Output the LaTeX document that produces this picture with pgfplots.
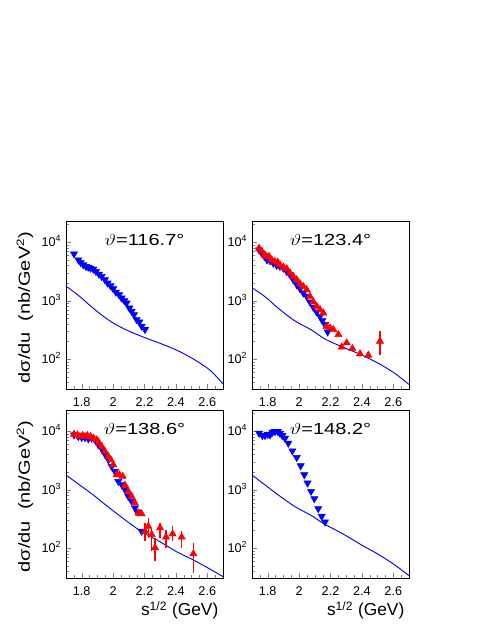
\documentclass[border=0pt]{standalone}
\usepackage{pgfplots}
\pgfplotsset{compat=1.18}
\usepackage{fontspec}
\setmainfont{Liberation Sans}
\usepackage{graphicx}
\definecolor{ebar}{RGB}{255,0,0}
\pgfplotsset{
  every axis/.append style={
    scale only axis, width=117.75pt, height=126pt,
    xmin=1.7, xmax=2.7, ymin=31, ymax=23000,
    axis line style={line width=0.6pt},
    tick align=inside, tick pos=left,
    xtick={1.8,2,2.2,2.4,2.6}, xticklabels={1.8,2,2.2,2.4,2.6},
    minor xtick={1.7,1.75,1.85,1.9,1.95,2.05,2.1,2.15,2.25,2.3,2.35,2.45,2.5,2.55,2.65},
    ytick={100,1000,10000},
    yticklabels={10\textsuperscript{2},10\textsuperscript{3},10\textsuperscript{4}},
    minor ytick={40,50,60,70,80,90,200,300,400,500,600,700,800,900,2000,3000,4000,5000,6000,7000,8000,9000,20000},
    major tick length=4pt, minor tick length=2pt,
    ticklabel style={font=\fontsize{9.5}{11}\selectfont},
    yticklabel style={anchor=base east, yshift=-3.4pt},
    xticklabel style={yshift=-3pt},
  },
  mycurve/.style={blue, line width=0.7pt, no markers, smooth, tension=0.5},
  mybdn/.style={only marks, mark=triangle*, mark size=3.1pt, blue, mark options={rotate=180, fill=blue, draw=blue}},
  myrup/.style={only marks, mark=triangle*, mark size=3.1pt, red, mark options={fill=red, draw=red}},
}
\newcommand{\ttl}[1]{\node[anchor=base, font=\fontsize{12}{14}\selectfont, yshift=-18.5pt] at (rel axis cs:0.5,1) {\scalebox{1.25}[1]{$\vartheta$=#1°}};}
\newcommand{\ylab}{\scalebox{1.25}[1]{dσ/du\ \ (nb/GeV\textsuperscript{2})}}
\newcommand{\eb}[3]{\addplot[ebar, draw=ebar, line width=0.9pt, mark=none, sharp plot] coordinates {(#1,#2) (#1,#3)};}
\begin{document}
\begin{tikzpicture}
\path[use as bounding box] (0,0) rectangle (368.25pt,476.25pt);
% top-left
\begin{semilogyaxis}[at={(49.5pt,184.5pt)}, anchor=south west]
\addplot[mycurve] coordinates {(1.70,1780) (1.789,1171) (1.874,740) (1.98,450) (2.086,315) (2.203,233) (2.299,187) (2.405,143) (2.511,101) (2.617,65) (2.70,38)};
\addplot[mybdn] coordinates {(1.751,6300) (1.779,4990) (1.793,4500) (1.810,4100) (1.827,3840) (1.842,3740) (1.857,3600) (1.874,3460) (1.891,3160) (1.910,2840) (1.927,2600) (1.948,2280) (1.965,2000) (1.984,1800) (2.001,1600) (2.018,1400) (2.038,1265) (2.054,1110) (2.071,1000) (2.086,912) (2.103,750) (2.118,660) (2.133,578) (2.150,475) (2.167,434) (2.182,367) (2.203,321)};
\ttl{116.7}
\end{semilogyaxis}
% top-right
\begin{semilogyaxis}[at={(189pt,184.5pt)}, anchor=south west]
\addplot[mycurve] coordinates {(1.70,1667) (1.783,1171) (1.868,740) (1.974,450) (2.080,315) (2.165,221) (2.271,164) (2.399,118) (2.505,85) (2.611,57) (2.70,37)};
\addplot[mybdn] coordinates {(1.745,7390) (1.762,6490) (1.779,5690) (1.796,4990) (1.815,4800) (1.836,4380) (1.857,4000) (1.878,3840) (1.900,3600) (1.921,3160) (1.942,2770) (1.963,2280) (1.985,1875) (2.006,1600) (2.027,1350) (2.048,1190) (2.069,950) (2.091,771) (2.112,641) (2.133,542) (2.148,457) (2.165,391) (2.182,293)};
\addplot[myrup] coordinates {(1.745,7890) (1.762,6920) (1.779,6070) (1.793,5690) (1.808,5690) (1.825,4990) (1.846,4680) (1.864,4550) (1.878,4100) (1.900,3740) (1.921,3510) (1.942,2960) (1.963,2600) (1.985,2280) (2.006,1950) (2.027,1750) (2.048,1540) (2.069,1190) (2.091,950) (2.112,800) (2.133,703) (2.154,617) (2.176,366) (2.197,343) (2.218,321) (2.250,264) (2.271,161) (2.303,190) (2.339,152) (2.388,124) (2.441,117) (2.515,203)};
\eb{2.515}{117}{300}
\ttl{123.4}
\end{semilogyaxis}
% bottom-left
\begin{semilogyaxis}[at={(49.5pt,42.75pt)}, anchor=south west]
\addplot[mycurve] coordinates {(1.70,1782) (1.874,811) (1.98,480) (2.086,292) (2.182,191) (2.299,129) (2.405,87) (2.511,63) (2.617,44) (2.70,32.6)};
\addplot[mybdn] coordinates {(1.751,8630) (1.779,8090) (1.800,7780) (1.821,7780) (1.842,7390) (1.863,7580) (1.885,7100) (1.906,5840) (1.927,4990) (1.948,4050) (1.970,3240) (1.991,2500) (2.012,2050) (2.033,1390) (2.055,1220) (2.076,1000) (2.097,771) (2.118,634) (2.139,488) (2.154,417) (2.182,195)};
\addplot[myrup] coordinates {(1.751,8870) (1.772,8630) (1.789,8090) (1.806,8410) (1.821,8090) (1.836,8410) (1.857,8090) (1.874,7580) (1.895,7100) (1.912,6230) (1.927,5470) (1.948,4500) (1.970,3700) (1.985,3240) (2.001,2670) (2.023,1800) (2.040,1800) (2.061,1690) (2.076,1190) (2.097,937) (2.118,771) (2.139,593) (2.161,401) (2.182,386)
(2.203,195) (2.224,238) (2.246,171) (2.267,102) (2.299,223) (2.337,155) (2.379,176) (2.437,155) (2.511,80)};
\eb{2.203}{132}{271}
\eb{2.224}{151}{330}
\eb{2.246}{89}{223}
\eb{2.267}{60}{151}
\eb{2.299}{151}{271}
\eb{2.337}{102}{208}
\eb{2.379}{132}{238}
\eb{2.437}{102}{195}
\eb{2.511}{38}{124}
\ttl{138.6}
\end{semilogyaxis}
% bottom-right
\begin{semilogyaxis}[at={(189pt,42.75pt)}, anchor=south west]
\addplot[mycurve] coordinates {(1.70,1782) (1.868,811) (1.974,513) (2.080,359) (2.154,266) (2.292,168) (2.399,113) (2.505,78.5) (2.611,51.5) (2.70,33.9)};
\addplot[mybdn] coordinates {(1.745,9220) (1.766,8410) (1.783,8410) (1.800,8870) (1.815,8630) (1.830,9590) (1.846,9840) (1.864,9840) (1.878,9220) (1.893,8410) (1.910,7580) (1.931,6230) (1.957,4610) (1.985,3550) (2.010,2560) (2.033,1800) (2.054,1300) (2.076,937) (2.097,703) (2.122,475) (2.144,352) (2.165,282)};
\ttl{148.2}
\end{semilogyaxis}
% y labels
\node[rotate=90, font=\fontsize{12}{14}\selectfont] at (18.75pt,245.6pt) {\ylab};
\node[rotate=90, font=\fontsize{12}{14}\selectfont] at (18.75pt,103.9pt) {\ylab};
% x labels
\node[anchor=base east, font=\fontsize{13}{15}\selectfont] at (167.25pt,14.25pt) {s\textsuperscript{1/2} (GeV)};
\node[anchor=base east, font=\fontsize{13}{15}\selectfont] at (306.75pt,14.25pt) {s\textsuperscript{1/2} (GeV)};
\end{tikzpicture}
\end{document}
